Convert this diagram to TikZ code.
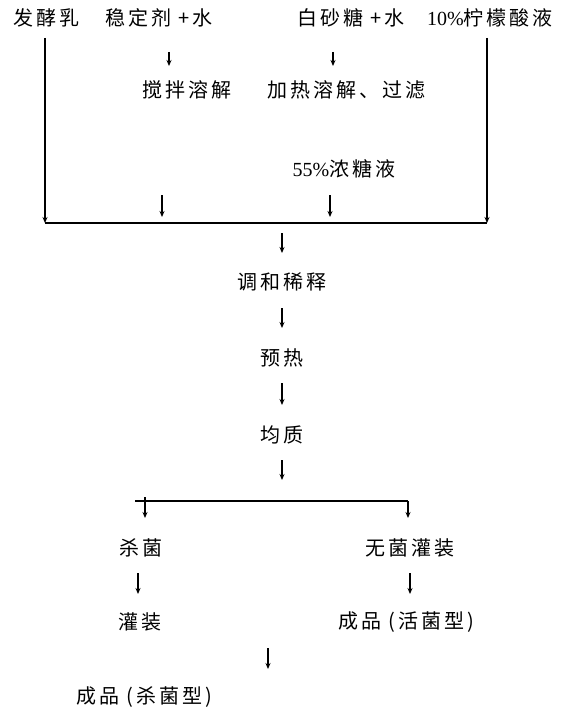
\documentclass[tikz,border=0pt]{standalone}
\usepackage{fontspec}
\setmainfont{Liberation Serif}
\newfontfamily\cjk[LetterSpace=15]{Noto Sans CJK SC}
\usetikzlibrary{arrows.meta}
\tikzset{
  lbl/.style={inner sep=0pt, anchor=center, font=\fontsize{20}{24}\selectfont\cjk},
  arr/.style={line width=1.1pt, -{Stealth[length=6pt,width=5pt]}},
  bar/.style={line width=1.4pt},
  longarr/.style={line width=1.4pt, -{Stealth[length=6pt,width=5pt]}}
}
\begin{document}
\begin{tikzpicture}[x=1pt,y=-1pt]
\useasboundingbox (0,0) rectangle (567,714);
\fill[white] (0,0) rectangle (567,714);
% text nodes
\node[lbl] (fa) at (46,18) {发酵乳};
\node[lbl] (wd) at (159,18) {稳定剂 +水};
\node[lbl] (bs) at (351,18) {白砂糖 +水};
\node[lbl] (nm) at (490,18) {{\rmfamily 10\%}柠檬酸液};
\node[lbl] (jb) at (187,90) {搅拌溶解};
\node[lbl] (jr) at (346,90) {加热溶解、过滤};
\node[lbl] (nt) at (344,169) {{\rmfamily 55\%}浓糖液};
\node[lbl] (th) at (282,282) {调和稀释};
\node[lbl] (yr) at (282,358) {预热};
\node[lbl] (jz) at (282,435) {均质};
\node[lbl] (sj) at (141,548) {杀菌};
\node[lbl] (wj) at (410,548) {无菌灌装};
\node[lbl] (gz) at (140,622) {灌装};
\node[lbl] (hj) at (406,622) {成品 (活菌型)};
\node[lbl] (sx) at (144,697) {成品 (杀菌型)};
% coordinates
\coordinate (L1) at (45,38);
\coordinate (L2) at (45,223);
\coordinate (R1) at (487,38);
\coordinate (R2) at (487,223);
\coordinate (a1s) at (169,52);  \coordinate (a1e) at (169,66);
\coordinate (a2s) at (333,52);  \coordinate (a2e) at (333,66);
\coordinate (a3s) at (162,195); \coordinate (a3e) at (162,217);
\coordinate (a4s) at (330,195); \coordinate (a4e) at (330,217);
\coordinate (a5s) at (282,233); \coordinate (a5e) at (282,253);
\coordinate (a6s) at (282,308); \coordinate (a6e) at (282,328);
\coordinate (a7s) at (282,383); \coordinate (a7e) at (282,405);
\coordinate (a8s) at (282,460); \coordinate (a8e) at (282,480);
\coordinate (B1) at (135,501);  \coordinate (B2) at (408,501);
\coordinate (b1s) at (145,497); \coordinate (b1e) at (145,518);
\coordinate (b2e) at (408,518);
\coordinate (c1s) at (138,573); \coordinate (c1e) at (138,594);
\coordinate (c2s) at (410,573); \coordinate (c2e) at (410,594);
\coordinate (d1s) at (268,648); \coordinate (d1e) at (268,669);
% lines
\draw[longarr] (L1) -- (L2);
\draw[longarr] (R1) -- (R2);
\draw[bar] (L2) -- (R2);
\draw[arr] (a1s) -- (a1e);
\draw[arr] (a2s) -- (a2e);
\draw[arr] (a3s) -- (a3e);
\draw[arr] (a4s) -- (a4e);
\draw[arr] (a5s) -- (a5e);
\draw[arr] (a6s) -- (a6e);
\draw[arr] (a7s) -- (a7e);
\draw[arr] (a8s) -- (a8e);
\draw[bar] (B1) -- (B2);
\draw[arr] (b1s) -- (b1e);
\draw[arr] (B2) -- (b2e);
\draw[arr] (c1s) -- (c1e);
\draw[arr] (c2s) -- (c2e);
\draw[arr] (d1s) -- (d1e);
\end{tikzpicture}
\end{document}
